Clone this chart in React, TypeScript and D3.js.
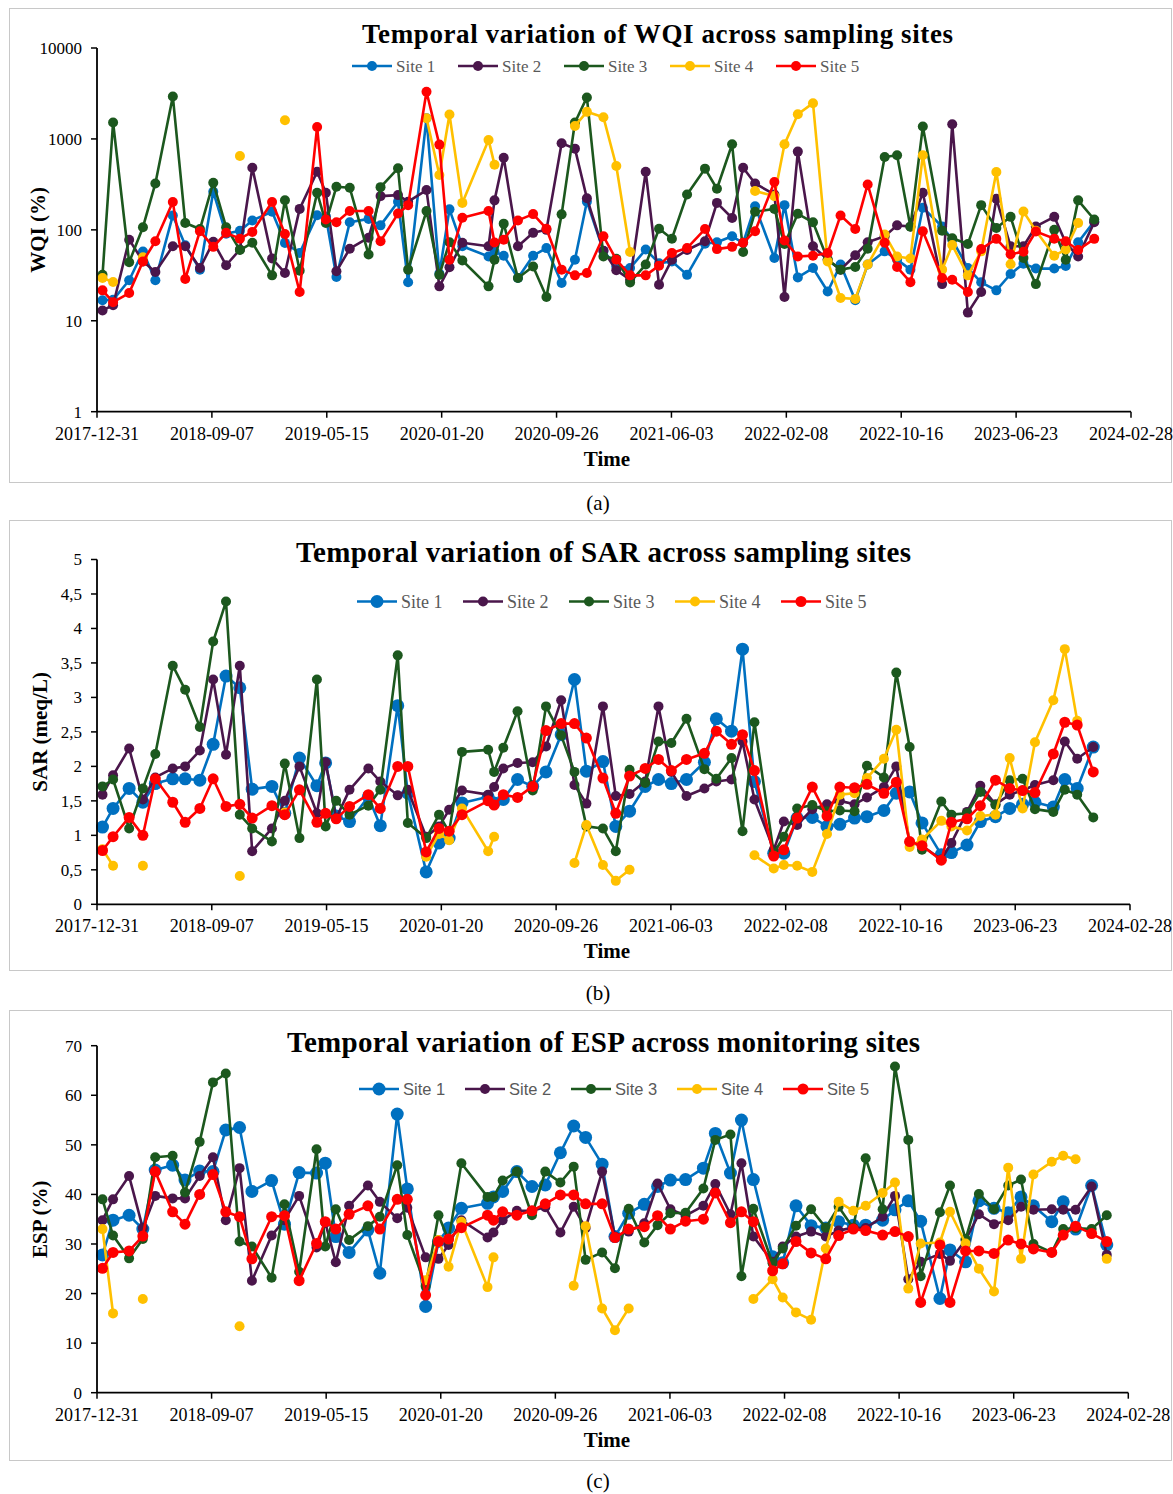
import React from 'react';
import * as d3 from 'd3';

// sampling dates shared by all three panels (the ESP panel has one extra sample)
const sampleDates = [
  '2018-01-12', '2018-02-04', '2018-03-11', '2018-04-10', '2018-05-07', '2018-06-14', '2018-07-11', '2018-08-12',
  '2018-09-10', '2018-10-08', '2018-11-07', '2018-12-04', '2019-01-16', '2019-02-13', '2019-03-17', '2019-04-24',
  '2019-05-13', '2019-06-05', '2019-07-04', '2019-08-14', '2019-09-09', '2019-10-17', '2019-11-08', '2019-12-18',
  '2020-01-15', '2020-02-06', '2020-03-05', '2020-05-01', '2020-05-14', '2020-06-03', '2020-07-04', '2020-08-06',
  '2020-09-04', '2020-10-07', '2020-11-05', '2020-12-01', '2021-01-06', '2021-02-03', '2021-03-05', '2021-04-08',
  '2021-05-07', '2021-06-04', '2021-07-07', '2021-08-15', '2021-09-10', '2021-10-13', '2021-11-06', '2021-12-02',
  '2022-01-13', '2022-02-04', '2022-03-05', '2022-04-07', '2022-05-09', '2022-06-06', '2022-07-08', '2022-08-04',
  '2022-09-10', '2022-10-07', '2022-11-05', '2022-12-02', '2023-01-13', '2023-02-04', '2023-03-10', '2023-04-08',
  '2023-05-11', '2023-06-11', '2023-07-09', '2023-08-05', '2023-09-14', '2023-10-09', '2023-11-05', '2023-12-10',
  '2024-01-12',
];

const axisDates = [
  '2017-12-31', '2018-09-07', '2019-05-15', '2020-01-20', '2020-09-26',
  '2021-06-03', '2022-02-08', '2022-10-16', '2023-06-23', '2024-02-28',
];

const siteNames = ['Site 1', 'Site 2', 'Site 3', 'Site 4', 'Site 5'];
const siteColors = ['#0070C0', '#4A164B', '#1C581E', '#FFC000', '#FF0000'];

const wqiTicks = [1, 10, 100, 1000, 10000];
const wqiTickLabels = ['1', '10', '100', '1000', '10000'];
const sarTicks = [0, 0.5, 1, 1.5, 2, 2.5, 3, 3.5, 4, 4.5, 5];
const sarTickLabels = ['0', '0,5', '1', '1,5', '2', '2,5', '3', '3,5', '4', '4,5', '5'];
const espTicks = [0, 10, 20, 30, 40, 50, 60, 70];
const espTickLabels = ['0', '10', '20', '30', '40', '50', '60', '70'];

// WQI (%)
const wqiSite1 = [16.8, 17, 27.9, 57.7, 27.9, 144, 67.7, 36.5, 262, 90.4, 97.5, 127, 158, 71.9, 55.7, 145, 140, 30.3, 121,
  132, 112, 204, 26.5, 1690, 33, 168, 66, 51, 57.7, 52, 29.5, 52, 63, 26, 47, 204, 58.7, 39.6,
  38, 60.7, 43, 45, 32, 70.5, 73, 85, 72, 182, 49, 187, 30, 38, 21, 41.5, 16.8, 41.5,
  58, 47, 36.5, 175, 109, 78, 38, 26.5, 21.6, 32.7, 42.5, 37.5, 37.5, 40, 73, 124, null];
const wqiSite2 = [13, 14.8, 78, 45, 34.4, 66, 66, 38, 73.8, 40.8, 60.7, 483, 48.3, 33.6, 170, 436, 256, 35, 62,
  82, 235, 241, 204, 274, 23.9, 38.7, 72, 66, 211, 622, 66, 92.7, 100, 896, 782, 223, 59, 36,
  28.3, 436, 24.9, 47, 60, 75, 198, 135, 483, 324, 245, 18.3, 725, 66, 47, 36.5, 52.6, 73,
  85, 112, 109, 256, 25.3, 1452, 12.3, 20.7, 220, 66, 66, 109, 139, 72, 51, 121, null];
const wqiSite3 = [32, 1515, 44, 107, 324, 2930, 119, 102, 330, 107, 60, 72, 31.6, 212, 35.6, 256, 119, 298, 290,
  53.5, 295, 475, 36.5, 161, 32, 73, 46, 23.9, 47, 117, 29.5, 39.6, 18.3, 148, 1515, 2860, 51, 48,
  26.4, 41.5, 103, 80, 245, 471, 283, 873, 57, 158, 170, 70, 150, 121, 47, 36.5, 39, 62,
  632, 660, 108, 1368, 98, 81, 70, 187, 105, 139, 49, 25.3, 100, 47, 211, 130, null];
const wqiSite4 = [29.5, 26.7, null, 50, null, null, null, null, null, null, 649, null, null, 1607, null, null, null, null, null,
  null, null, null, null, 1690, 401, 1854, 198, 975, 521, null, null, null, null, null, 1390, 1985, 1734, 504,
  57, null, null, null, null, null, null, null, null, 267, 235, 873, 1871, 2473, 45, 17.8, 17.4, 41.5,
  89, 51, 48.5, 660, 36.5, 68, 31.6, 58, 432, 41.8, 159, 97.5, 52, 60.7, 119, null, null];
const wqiSite5 = [21.6, 16, 20.2, 45, 75, 202, 28.8, 96.7, 65, 92.7, 80, 95, 202, 90, 20.7, 1355, 130, 121, 161,
  161, 75, 151, 187, 3300, 866, 47, 136, 161, 72.5, 78, 127, 149, 103, 36.5, 31.6, 33.6, 85, 47,
  31.6, 31.6, 40.4, 55.7, 63, 102, 61.4, 65, 72, 96.7, 336, 76.3, 51, 52, 55.7, 144, 102, 316,
  72, 39, 26.6, 96.7, 29.5, 28.3, 20.7, 61.4, 79.6, 54, 57.5, 96, 80, 75, 60, 79.6, null];

// SAR (meq/L)
const sarSite1 = [1.12, 1.39, 1.68, 1.48, 1.75, 1.82, 1.82, 1.8, 2.32, 3.31, 3.14, 1.67, 1.71, 1.32, 2.12, 1.72, 2.05, 1.28, 1.2,
  1.56, 1.14, 2.88, 1.61, 0.47, 0.89, 0.96, 1.47, 1.56, 1.47, 1.52, 1.81, 1.71, 1.92, 2.46, 3.26, 1.93, 2.07, 1.13,
  1.35, 1.71, 1.81, 1.75, 1.81, 2.06, 2.69, 2.51, 3.7, 1.78, 0.74, 0.74, 1.25, 1.26, 1.13, 1.16, 1.25, 1.27,
  1.36, 1.61, 1.63, 1.18, 0.72, 0.75, 0.86, 1.2, 1.27, 1.39, 1.45, 1.48, 1.41, 1.81, 1.68, 2.28, null];
const sarSite2 = [1.59, 1.87, 2.26, 1.52, 1.84, 1.97, 2.0, 2.23, 3.26, 2.17, 3.46, 0.77, 1.1, 1.5, 2.0, 1.32, 2.06, 1.25, 1.66,
  1.97, 1.78, 1.58, 1.66, 0.98, 1.13, 1.37, 1.65, 1.59, 1.7, 1.97, 2.05, 2.06, 2.29, 2.96, 1.73, 1.46, 2.87, 1.57,
  1.6, 1.78, 2.87, 1.92, 1.57, 1.68, 1.78, 1.81, 2.36, 1.52, 0.79, 1.2, 1.15, 1.38, 1.45, 1.5, 1.45, 1.55,
  1.7, 2.0, 0.9, 0.85, 0.65, 0.89, 1.34, 1.72, 1.45, 1.59, 1.65, 1.73, 1.8, 2.36, 2.11, 2.28, null];
const sarSite3 = [1.71, 1.81, 1.1, 1.68, 2.18, 3.46, 3.11, 2.57, 3.81, 4.39, 1.3, 1.1, 0.91, 2.04, 0.96, 3.26, 1.13, 1.5, 1.3,
  1.43, 1.66, 3.61, 1.18, 0.96, 1.3, 1.05, 2.21, 2.24, 1.92, 2.27, 2.8, 1.65, 2.87, 2.45, 1.92, 1.13, 1.1, 0.77,
  1.95, 1.76, 2.36, 2.34, 2.69, 1.96, 1.82, 2.12, 1.06, 2.64, 0.74, 0.98, 1.39, 1.44, 1.35, 1.36, 1.35, 2.01,
  1.84, 3.36, 2.28, 0.79, 1.49, 1.3, 1.32, 1.63, 1.44, 1.8, 1.82, 1.38, 1.34, 1.66, 1.59, 1.26, null];
const sarSite4 = [0.8, 0.56, null, 0.56, null, null, null, null, null, null, 0.41, null, null, 1.33, null, null, null, null, null,
  null, null, null, null, 0.69, 1.02, 0.93, 1.39, 0.77, 0.98, null, null, null, null, null, 0.6, 1.15, 0.57, 0.34,
  0.5, null, null, null, null, null, null, null, null, 0.71, 0.52, 0.57, 0.56, 0.47, 1.02, 1.59, 1.61, 1.83,
  2.11, 2.53, 0.83, 0.94, 1.21, 1.13, 1.07, 1.28, 1.3, 2.12, 1.39, 2.35, 2.96, 3.7, 2.66, null, null];
const sarSite5 = [0.78, 0.98, 1.26, 1.0, 1.82, 1.48, 1.19, 1.39, 1.82, 1.42, 1.45, 1.25, 1.43, 1.3, 1.66, 1.19, 1.32, 1.24, 1.42,
  1.59, 1.39, 2.0, 2.0, 0.76, 1.1, 1.06, 1.3, 1.5, 1.44, 1.59, 1.55, 1.71, 2.52, 2.62, 2.62, 2.41, 1.83, 1.32,
  1.86, 1.97, 2.1, 1.94, 2.1, 2.19, 2.51, 2.32, 2.46, 1.94, 0.7, 0.79, 1.25, 1.7, 1.28, 1.7, 1.69, 1.74,
  1.61, 1.77, 0.91, 0.85, 0.64, 1.19, 1.24, 1.43, 1.8, 1.68, 1.65, 1.62, 2.18, 2.64, 2.6, 1.92, null];

// ESP (%)
const espSite1 = [27.8, 34.8, 35.8, 33, 44.9, 45.9, 42.9, 44.7, 44.6, 53, 53.5, 40.6, 42.8, 34, 44.4, 44.3, 46.3, 31.5, 28.3,
  32.8, 24.1, 56.2, 41.1, 17.4, 30.5, 33.2, 37.2, 38.2, 39.5, 40.6, 44.6, 41.6, 41.9, 48.4, 53.8, 51.5, 46.1, 31.5,
  36.2, 38, 41.6, 42.9, 43, 45.3, 52.3, 44.3, 55, 43, 27.4, 26.2, 37.7, 33.7, 33.2, 34.5, 33.8, 33.8,
  34.8, 36.9, 38.7, 34.6, 19, 28.8, 26.4, 38.7, 37.2, 36.3, 39.5, 37.7, 34.5, 38.5, 33, 41.8, 29.8];
const espSite2 = [34.8, 39, 43.7, 33.2, 39.7, 39.2, 39.2, 43.7, 47.5, 34.8, 45.3, 22.6, 31.7, 34.8, 39.7, 29.3, 34.3, 26.3, 37.7,
  41.8, 38.5, 35.2, 37.3, 27.3, 27, 29.8, 34.8, 31.3, 32.3, 34.8, 36.7, 36.7, 37.4, 32.3, 37.5, 33.2, 44.6, 31.5,
  32.5, 34.2, 42.2, 37, 35.7, 37.7, 42.1, 36, 46.3, 31.5, 26.4, 29.5, 31.5, 32.5, 31.5, 32.7, 33.3, 33.2,
  35.5, 39.7, 22.9, 26.4, 28, 26.6, 30.8, 36, 34, 34.8, 37.5, 36.9, 37, 36.9, 36.9, 41.6, 27.8];
const espSite3 = [39, 31.7, 27.1, 31, 47.5, 47.8, 40.4, 50.6, 62.6, 64.4, 30.5, 29.5, 23.2, 38, 24.4, 49.1, 29.5, 37, 30.8,
  33.6, 35.5, 45.9, 31.8, 21.5, 35.8, 30.8, 46.3, 39.5, 39.5, 42.8, 44.6, 35.8, 44.6, 42.4, 45.6, 26.8, 28.3, 25.1,
  37.1, 30.3, 33.8, 36.2, 36.3, 41.2, 51, 52.1, 23.5, 37.1, 26.1, 29.1, 33.7, 37, 33.3, 37.5, 33.2, 47.3,
  37, 65.8, 51, 23.5, 36.4, 41.8, 31, 40.1, 37, 41.8, 43, 30, 28.3, 33, 33.2, 33, 35.8];
const espSite4 = [33, 16, null, 18.9, null, null, null, null, null, null, 13.4, null, null, 35.7, null, null, null, null, null,
  null, null, null, null, 22.7, 30.8, 25.4, 34.5, 21.3, 27.3, null, null, null, null, null, 21.6, 33.6, 17, 12.6,
  17, null, null, null, null, null, null, null, null, 18.9, 22.9, 19.2, 16.2, 14.7, 29.1, 38.5, 36.7, 37.7,
  40.3, 42.4, 21, 30.1, 30.3, 36.5, 30.1, 25, 20.4, 45.4, 27, 44, 46.6, 47.8, 47.1, null, 27];
const espSite5 = [25.1, 28.3, 28.6, 31.6, 44.6, 36.5, 34, 40, 44, 36.5, 35.5, 27, 35.5, 35.7, 22.6, 30.1, 34.5, 33, 36,
  37.7, 33, 39, 39, 19.7, 30.5, 31, 33.3, 35.8, 34.8, 36.5, 35.8, 36.7, 38.1, 39.9, 39.9, 38.1, 38.1, 31.3,
  33, 33.5, 35.7, 33, 34.6, 35, 40.3, 34.3, 36.5, 34.5, 24.6, 26, 30.5, 28.2, 27, 31.7, 33, 32.7,
  31.8, 32.5, 31.5, 18.2, 29.8, 18.2, 28.6, 28.6, 28.1, 30.8, 30, 29, 28.3, 31.8, 33.6, 32.1, 30.5];

const SERIF = '"Liberation Serif", "Times New Roman", serif';
const SANS = '"Liberation Sans", Arial, sans-serif';
const parseDate = d3.utcParse('%Y-%m-%d');
const sampleTimes = sampleDates.map((d) => parseDate(d) as Date);

type PanelProps = {
  frameTop: number;
  frameHeight: number;
  left: number;
  right: number;
  top: number;
  bottom: number;
  log?: boolean;
  ticks: number[];
  tickLabels: string[];
  series: (number | null)[][];
  title: string;
  titleX: number;
  titleY: number;
  titleSize: number;
  titleWidth: number;
  yLabel: string;
  yLabelX: number;
  legendY: number;
  legendX: number;
  legendFont: string;
  legendSize: number;
  radii: number[];
  caption: string;
  captionY: number;
};

const Panel = (p: PanelProps) => {
  const x = d3.scaleUtc()
    .domain([parseDate(axisDates[0]) as Date, parseDate(axisDates[axisDates.length - 1]) as Date])
    .range([p.left, p.right]);
  const y = p.log
    ? d3.scaleLog().domain([p.ticks[0], p.ticks[p.ticks.length - 1]]).range([p.bottom, p.top])
    : d3.scaleLinear().domain([p.ticks[0], p.ticks[p.ticks.length - 1]]).range([p.bottom, p.top]);

  const line = d3.line<number | null>()
    .defined((v) => v != null)
    .x((_, i) => x(sampleTimes[i]))
    .y((v) => y(v as number));

  const midY = (p.top + p.bottom) / 2;

  return (
    <g>
      <rect x={9.5} y={p.frameTop + 0.5} width={1162} height={p.frameHeight} fill="#fff" stroke="#c8c8c8" strokeWidth={1} />

      {/* series: line then markers, site 5 ends up on top */}
      {p.series.map((vals, s) => (
        <g key={s}>
          <path d={line(vals) || ''} fill="none" stroke={siteColors[s]} strokeWidth={2.6} strokeLinejoin="round" />
          {vals.map((v, i) =>
            v == null ? null : (
              <circle key={i} cx={x(sampleTimes[i])} cy={y(v)} r={p.radii[s]} fill={siteColors[s]} />
            )
          )}
        </g>
      ))}

      {/* axes */}
      <line x1={p.left} x2={p.left} y1={p.top} y2={p.bottom} stroke="#000" strokeWidth={1.8} />
      <line x1={p.left} x2={p.right} y1={p.bottom} y2={p.bottom} stroke="#000" strokeWidth={1.8} />
      {p.ticks.map((t, i) => (
        <g key={t}>
          <line x1={p.left - 6} x2={p.left} y1={y(t)} y2={y(t)} stroke="#000" strokeWidth={1.5} />
          <text x={p.left - 15} y={y(t)} dy="0.35em" textAnchor="end" fontFamily={SERIF} fontSize={17}>
            {p.tickLabels[i]}
          </text>
        </g>
      ))}
      {axisDates.map((d) => {
        const xp = x(parseDate(d) as Date);
        return (
          <g key={d}>
            <line x1={xp} x2={xp} y1={p.bottom} y2={p.bottom + 6} stroke="#000" strokeWidth={1.5} />
            <text x={xp} y={p.bottom + 28} textAnchor="middle" fontFamily={SERIF} fontSize={18}>
              {d}
            </text>
          </g>
        );
      })}

      <text x={p.titleX} y={p.titleY} textAnchor="middle" fontFamily={SERIF} fontWeight="bold"
        fontSize={p.titleSize} textLength={p.titleWidth} lengthAdjust="spacing">
        {p.title}
      </text>
      <text x={607} y={p.bottom + 54} textAnchor="middle" fontFamily={SERIF} fontWeight="bold" fontSize={21}>
        Time
      </text>
      <text transform={`translate(${p.yLabelX},${midY}) rotate(-90)`} textAnchor="middle" dy="0.35em"
        fontFamily={SERIF} fontWeight="bold" fontSize={21}>
        {p.yLabel}
      </text>

      {/* legend */}
      {siteNames.map((name, s) => {
        const cx = p.legendX + s * 106;
        return (
          <g key={name}>
            <line x1={cx - 20} x2={cx + 20} y1={p.legendY} y2={p.legendY} stroke={siteColors[s]} strokeWidth={2.6} />
            <circle cx={cx} cy={p.legendY} r={p.radii[s]} fill={siteColors[s]} />
            <text x={cx + 24} y={p.legendY} dy="0.35em" fontFamily={p.legendFont} fontSize={p.legendSize} fill="#595959">
              {name}
            </text>
          </g>
        );
      })}

      <text x={598} y={p.captionY} textAnchor="middle" fontFamily={SERIF} fontSize={21}>
        {p.caption}
      </text>
    </g>
  );
};

const App = () => (
  <div style={{ position: 'absolute', left: 0, top: 0 }}>
    <svg width={1173} height={1494} style={{ display: 'block', background: '#fff' }}>
      <Panel
        frameTop={8} frameHeight={474}
        left={97} right={1131} top={48} bottom={411.7} log
        ticks={wqiTicks} tickLabels={wqiTickLabels}
        series={[wqiSite1, wqiSite2, wqiSite3, wqiSite4, wqiSite5]}
        title="Temporal variation of WQI across sampling sites"
        titleX={657.5} titleY={43} titleSize={27} titleWidth={591}
        yLabel="WQI (%)" yLabelX={38}
        legendY={66} legendX={372} legendFont={SERIF} legendSize={17}
        radii={[5, 5, 5, 5, 5]}
        caption="(a)" captionY={510}
      />
      <Panel
        frameTop={520} frameHeight={450}
        left={97} right={1130} top={559.5} bottom={904.3}
        ticks={sarTicks} tickLabels={sarTickLabels}
        series={[sarSite1, sarSite2, sarSite3, sarSite4, sarSite5]}
        title="Temporal variation of SAR across sampling sites"
        titleX={603.5} titleY={562} titleSize={29} titleWidth={615}
        yLabel="SAR (meq/L)" yLabelX={40}
        legendY={601.5} legendX={377} legendFont={SERIF} legendSize={18}
        radii={[6.5, 5, 5, 5, 5.5]}
        caption="(b)" captionY={1000}
      />
      <Panel
        frameTop={1010} frameHeight={450}
        left={97} right={1128.3} top={1045.7} bottom={1392.7}
        ticks={espTicks} tickLabels={espTickLabels}
        series={[espSite1, espSite2, espSite3, espSite4, espSite5]}
        title="Temporal variation of ESP across monitoring sites"
        titleX={603.5} titleY={1052} titleSize={29} titleWidth={633}
        yLabel="ESP (%)" yLabelX={40}
        legendY={1089} legendX={379} legendFont={SANS} legendSize={16.5}
        radii={[6.5, 5, 5, 5, 5.5]}
        caption="(c)" captionY={1488}
      />
    </svg>
  </div>
);

export default App;
